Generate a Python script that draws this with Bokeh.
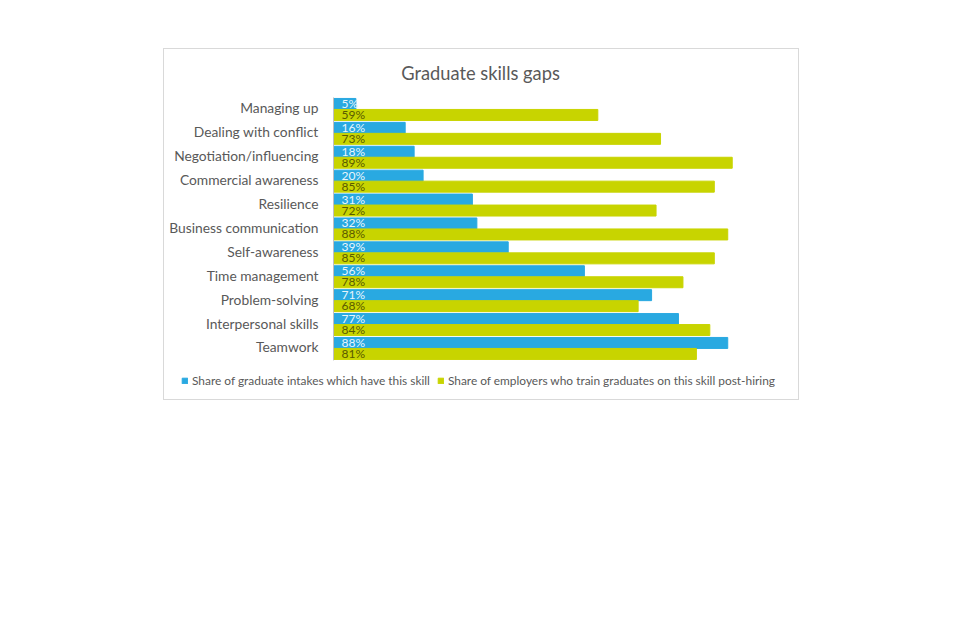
from bokeh.plotting import figure
from bokeh.models import ColumnDataSource, Range1d, Label, Legend, LegendItem
from bokeh.transform import dodge
from bokeh.core.properties import value
from bokeh.embed import file_html
from bokeh.resources import INLINE

categories = ["Managing up", "Dealing with conflict", "Negotiation/influencing",
              "Commercial awareness", "Resilience", "Business communication",
              "Self-awareness", "Time management", "Problem-solving",
              "Interpersonal skills", "Teamwork"]
intake = [5, 16, 18, 20, 31, 32, 39, 56, 71, 77, 88]
train = [59, 73, 89, 85, 72, 88, 85, 78, 68, 84, 81]
series_names = ["Share of graduate intakes which have this skill",
                "Share of employers who train graduates on this skill post-hiring"]
title_text = "Graduate skills gaps"

BLUE = "#29a9e1"
GREEN = "#c8d400"
GREY = "#595959"
FONT = "Lato"

n = len(categories)
pos = [n - 1 - i for i in range(n)]  # first category at the top

src = ColumnDataSource(dict(
    cat=categories,
    pos=pos,
    intake=[v / 100 for v in intake],
    train=[v / 100 for v in train],
    intake_lbl=[f"{v}%" for v in intake],
    train_lbl=[f"{v}%" for v in train],
    zero=[0] * n,
))

# geometry (pixels)
W, H = 636, 352
X0_PX = 169          # where 0% sits from the canvas left
PX_PER_UNIT = 448    # 100% width
BAND = 23.9          # category step
TOP_PX = 48          # from canvas top to first band top

x_start = -X0_PX / PX_PER_UNIT
x_end = (W - X0_PX) / PX_PER_UNIT
y_end = (n - 0.5) + TOP_PX / BAND
y_start = y_end - H / BAND

p = figure(width=W, height=H, output_backend="svg", toolbar_location=None,
           x_range=Range1d(x_start, x_end), y_range=Range1d(y_start, y_end),
           min_border=0, background_fill_color="white", border_fill_color="white")
p.margin = (48, 0, 0, 163)
p.styles = {"border": "1px solid #d9d9d9"}
p.outline_line_color = None
p.xaxis.visible = False
p.yaxis.visible = False
p.xgrid.visible = False
p.ygrid.visible = False

off = 0.23
bh = 0.46
r1 = p.hbar(y=dodge("pos", off), right="intake", left=0, height=bh,
            color=BLUE, source=src)
r2 = p.hbar(y=dodge("pos", -off), right="train", left=0, height=bh,
            color=GREEN, source=src)

# category axis line and labels
p.segment(x0=0, x1=0, y0=-0.5, y1=n - 0.5, line_color="#bfbfbf", line_width=1)
p.text(x="zero", y="pos", text="cat", source=src, x_offset=-15, y_offset=-1.5,
       text_align="right", text_baseline="middle",
       text_font=value(FONT), text_font_size="13.8px", text_color=GREY)

# value labels
p.text(x="zero", y=dodge("pos", off), text="intake_lbl", source=src,
       x_offset=8, y_offset=-0.5, text_baseline="middle", text_align="left",
       text_font=value(FONT), text_font_size="12px", text_color="#e8f5fc")
p.text(x="zero", y=dodge("pos", -off), text="train_lbl", source=src,
       x_offset=8, y_offset=-0.5, text_baseline="middle", text_align="left",
       text_font=value(FONT), text_font_size="12px", text_color="#5a5a00")

# title
p.add_layout(Label(x=(W / 2 - 2 - X0_PX) / PX_PER_UNIT, y=y_end - 23 / BAND,
                   text=title_text, text_align="center", text_baseline="middle",
                   text_font=FONT, text_font_size="18.3px", text_color=GREY))

legend = Legend(items=[LegendItem(label=series_names[0], renderers=[r1]),
                       LegendItem(label=series_names[1], renderers=[r2])],
                orientation="horizontal", location=(17, 13),
                glyph_width=7, glyph_height=7, label_standoff=4, spacing=7,
                padding=0, margin=0, border_line_color=None, background_fill_alpha=0,
                label_text_font=FONT, label_text_font_size="11.9px", label_text_color=GREY)
p.add_layout(legend)

open("out.html", "w").write(file_html(p, INLINE))
